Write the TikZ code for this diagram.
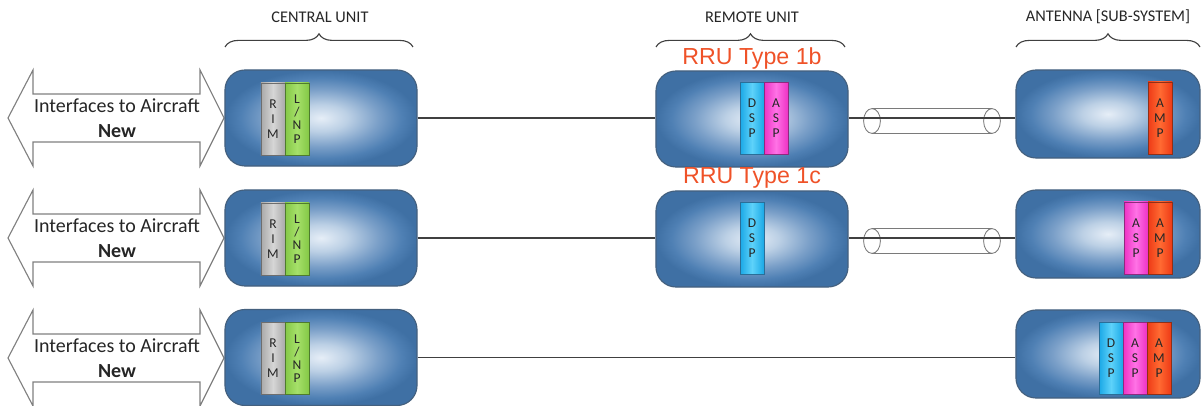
\documentclass[tikz,border=0pt]{standalone}
\usepackage{fontspec}
\setmainfont{Carlito}
\newfontfamily\arialfont{Liberation Sans}
\usetikzlibrary{decorations.pathreplacing,shapes.geometric}

% palette
\definecolor{uLight}{HTML}{E6EEF7}
\definecolor{uSoft}{HTML}{BCD0E5}
\definecolor{uMid}{HTML}{7A9FC8}
\definecolor{uBlue}{HTML}{4F80B4}
\definecolor{uDeep}{HTML}{3F70A4}
\definecolor{uEdge}{HTML}{44607E}
\definecolor{lineGray}{HTML}{404040}
\definecolor{arrowGray}{HTML}{808080}
\definecolor{cableGray}{HTML}{7A7A7A}
\definecolor{hdrText}{HTML}{262626}
\definecolor{rruRed}{HTML}{EF5228}
\definecolor{rimOut}{HTML}{A9A9A9}
\definecolor{rimIn}{HTML}{D6D6D6}
\definecolor{rimEdge}{HTML}{6E6E6E}
\definecolor{lnpOut}{HTML}{84C846}
\definecolor{lnpIn}{HTML}{A6E06A}
\definecolor{lnpEdge}{HTML}{4E7A2E}
\definecolor{dspOut}{HTML}{1AA8E6}
\definecolor{dspIn}{HTML}{5ED2FA}
\definecolor{dspEdge}{HTML}{2A6E98}
\definecolor{aspOut}{HTML}{EE32C4}
\definecolor{aspIn}{HTML}{FF72E6}
\definecolor{aspEdge}{HTML}{8E2A7E}
\definecolor{ampOut}{HTML}{EE3A16}
\definecolor{ampIn}{HTML}{FF6A32}
\definecolor{ampEdge}{HTML}{8E3018}

% soft glow inside the rounded unit boxes
\pgfdeclareradialshading{unitglow}{\pgfpoint{0bp}{0bp}}{%
  color(0bp)=(uLight); color(7bp)=(uSoft); color(15bp)=(uMid);
  color(21bp)=(uBlue); color(25bp)=(uDeep); color(50bp)=(uDeep)}

\tikzset{
  unitbox/.style={draw=uEdge, line width=0.8pt, rounded corners=0.5cm,
    shading=unitglow, inner sep=0pt, minimum width=4.8cm, minimum height=2.4cm},
  antbox/.style={unitbox, minimum width=4.6cm, minimum height=2.2cm},
  modbase/.style={inner sep=0pt, minimum width=0.6cm, minimum height=1.8cm,
    line width=0.6pt, align=center, text=black!85,
    font=\fontsize{9.6}{10.6}\selectfont},
  rimmod/.style={modbase, draw=rimEdge, left color=rimOut, right color=rimOut, middle color=rimIn},
  lnpmod/.style={modbase, draw=lnpEdge, left color=lnpOut, right color=lnpOut, middle color=lnpIn,
    font=\fontsize{9.6}{9.4}\selectfont},
  dspmod/.style={modbase, draw=dspEdge, left color=dspOut, right color=dspOut, middle color=dspIn},
  aspmod/.style={modbase, draw=aspEdge, left color=aspOut, right color=aspOut, middle color=aspIn},
  ampmod/.style={modbase, draw=ampEdge, left color=ampOut, right color=ampOut, middle color=ampIn},
  link/.style={draw=lineGray, line width=1pt},
  ifacearrow/.style={draw=arrowGray, fill=white, line width=0.8pt, line join=miter},
  ifacetext/.style={align=center, text=hdrText, font=\fontsize{14.2}{17.8}\selectfont},
  hdr/.style={text=hdrText, font=\fontsize{11.6}{13}\selectfont},
  bracket/.style={draw=lineGray, line width=0.8pt, decorate,
    decoration={brace, amplitude=0.33cm}},
  rrulabel/.style={text=rruRed, anchor=base, font=\arialfont\fontsize{16.5}{18}\selectfont},
  cableend/.style={ellipse, draw=cableGray, line width=0.6pt, inner sep=0pt,
    minimum width=0.42cm, minimum height=0.62cm},
  cableside/.style={draw=cableGray, line width=0.6pt}
}

\begin{document}
\begin{tikzpicture}[x=0.025cm, y=-0.025cm]
\useasboundingbox (0,0) rectangle (1204,406);

% column headings with their braces
\node[hdr] (hCU) at (320,17) {CENTRAL UNIT};
\node[hdr] (hRU) at (752,17) {REMOTE UNIT};
\node[hdr] (hAN) at (1108,17) {ANTENNA [SUB-SYSTEM]};
\coordinate (bCUl) at (225,47); \coordinate (bCUr) at (413,47);
\coordinate (bRUl) at (656,47); \coordinate (bRUr) at (845,47);
\coordinate (bANl) at (1016,47); \coordinate (bANr) at (1200,47);
\draw[bracket] (bCUl) -- (bCUr);
\draw[bracket] (bRUl) -- (bRUr);
\draw[bracket] (bANl) -- (bANr);

% aircraft interface arrows
\foreach \r/\y in {1/118, 2/238, 3/358}{
  \draw[ifacearrow] (8,\y) -- (33,\y-48) -- (33,\y-24) -- (200,\y-24)
    -- (200,\y-48) -- (224,\y) -- (200,\y+48) -- (200,\y+24)
    -- (33,\y+24) -- (33,\y+48) -- cycle;
  \node[ifacetext] (iface\r) at (117,\y) {Interfaces to Aircraft\\\textbf{New}};
}

% cables between remote units and antennas
\node[cableend] (cab1L) at (872,121) {};
\node[cableend] (cab1R) at (992,121) {};
\draw[cableside] (cab1L.north) -- (cab1R.north);
\draw[cableside] (cab1L.south) -- (cab1R.south);
\node[cableend] (cab2L) at (872,241) {};
\node[cableend] (cab2R) at (992,241) {};
\draw[cableside] (cab2L.north) -- (cab2R.north);
\draw[cableside] (cab2L.south) -- (cab2R.south);

% central units
\node[unitbox] (cu1) at (321,118) {};
\node[unitbox] (cu2) at (321,238) {};
\node[unitbox] (cu3) at (321,357.5) {};
\foreach \r/\y in {1/119, 2/239, 3/358.5}{
  \node[rimmod] (rim\r) at (273,\y) {R\\I\\M};
  \node[lnpmod] (lnp\r) at (297,\y) {L\\/\\N\\P};
}

% remote units
\node[unitbox] (ru1) at (752,119) {};
\node[unitbox] (ru2) at (752,239) {};
\node[dspmod] (ruDsp1) at (752,118.5) {D\\S\\P};
\node[aspmod] (ruAsp1) at (776,118.5) {A\\S\\P};
\node[dspmod] (ruDsp2) at (752,238.5) {D\\S\\P};
\node[rrulabel] (rru1b) at (752,65) {RRU Type 1b};
\node[rrulabel] (rru1c) at (752,184) {RRU Type 1c};

% antennas
\node[antbox] (an1) at (1108,114) {};
\node[antbox] (an2) at (1108,234) {};
\node[antbox] (an3) at (1108,354) {};
\node[ampmod] (anAmp1) at (1160,118) {A\\M\\P};
\node[aspmod] (anAsp2) at (1136,238) {A\\S\\P};
\node[ampmod] (anAmp2) at (1160,238) {A\\M\\P};
\node[dspmod] (anDsp3) at (1111,358.5) {D\\S\\P};
\node[aspmod] (anAsp3) at (1135,358.5) {A\\S\\P};
\node[ampmod] (anAmp3) at (1159,358.5) {A\\M\\P};

% signal links
\draw[link] (cu1.east) -- (cu1.east -| ru1.west);
\draw[link] (cu2.east) -- (cu2.east -| ru2.west);
\draw[link] (ru1.east |- cu1.east) -- (cu1.east -| an1.west);
\draw[link] (ru2.east |- cu2.east) -- (cu2.east -| an2.west);
\draw[link] (cu3.east) -- (cu3.east -| an3.west);
\end{tikzpicture}
\end{document}
